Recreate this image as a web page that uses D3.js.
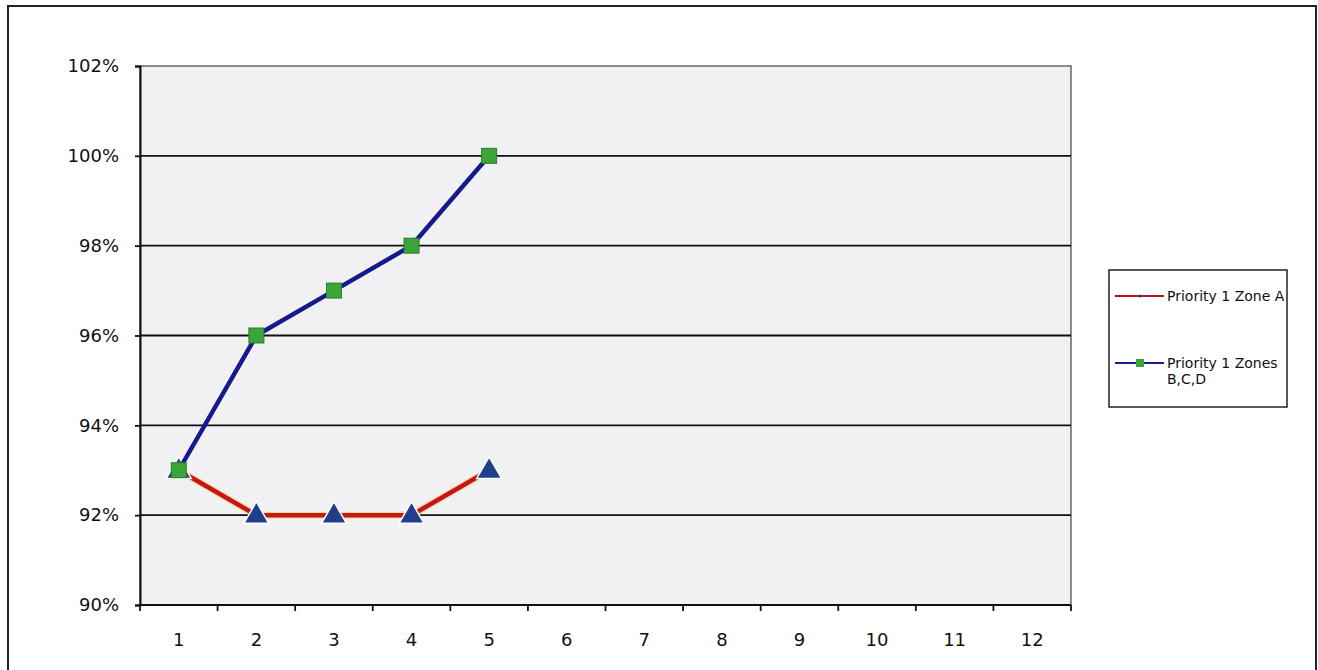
<!DOCTYPE html>
<html><head><meta charset="utf-8">
<script src="https://cdn.jsdelivr.net/npm/d3@7"></script>
<style>body{margin:0;background:#fff}svg{display:block}</style>
</head><body>
<script>
const categories = ["1","2","3","4","5","6","7","8","9","10","11","12"];
const zoneA = [0.93, 0.92, 0.92, 0.92, 0.93];
const zonesBCD = [0.93, 0.96, 0.97, 0.98, 1.00];
const yTicks = [0.90, 0.92, 0.94, 0.96, 0.98, 1.00, 1.02];
const seriesNames = ["Priority 1 Zone A", "Priority 1 Zones B,C,D"];

const W = 1318, H = 670;
const svg = d3.select("body").append("svg").attr("width", W).attr("height", H);
const font = "'DejaVu Sans', Verdana, sans-serif";

// outer frame
svg.append("rect").attr("x", 8).attr("y", 6).attr("width", 1308).attr("height", 700)
  .attr("fill", "#fff").attr("stroke", "#222").attr("stroke-width", 2);

const m = {left: 140, top: 66, right: 1071, bottom: 605};
const x = d3.scaleBand().domain(categories).range([m.left, m.right]);
const y = d3.scaleLinear().domain([0.90, 1.02]).range([m.bottom, m.top]);

svg.append("rect").attr("x", m.left).attr("y", m.top)
  .attr("width", m.right - m.left).attr("height", m.bottom - m.top)
  .attr("fill", "#f1f1f4").attr("stroke", "#444").attr("stroke-width", 1.2);

// gridlines
svg.append("g").selectAll("line").data(yTicks.filter(d => d > 0.90 && d < 1.02)).join("line")
  .attr("x1", m.left).attr("x2", m.right)
  .attr("y1", d => y(d)).attr("y2", d => y(d))
  .attr("stroke", "#111").attr("stroke-width", 1.8);

// y axis
const yAxis = d3.axisLeft(y).tickValues(yTicks).tickFormat(d3.format(".0%")).tickSize(5).tickPadding(16);
const gy = svg.append("g").attr("transform", `translate(${m.left},0)`).call(yAxis);
gy.select(".domain").attr("stroke", "#111").attr("stroke-width", 2);
gy.selectAll(".tick line").attr("stroke", "#111").attr("stroke-width", 1.8);
gy.selectAll("text").attr("font-family", font).attr("font-size", 18).attr("fill", "#111");

// x axis with ticks at category boundaries
const gx = svg.append("g").attr("transform", `translate(0,${m.bottom})`);
gx.append("line").attr("x1", m.left).attr("x2", m.right).attr("stroke", "#111").attr("stroke-width", 2);
const bounds = categories.map(c => x(c)).concat([m.right]);
gx.selectAll("line.t").data(bounds).join("line").attr("class", "t")
  .attr("x1", d => d).attr("x2", d => d).attr("y1", 0).attr("y2", 6)
  .attr("stroke", "#111").attr("stroke-width", 1.8);
gx.selectAll("text").data(categories).join("text")
  .attr("x", d => x(d) + x.bandwidth() / 2).attr("y", 41)
  .attr("text-anchor", "middle").attr("font-family", font).attr("font-size", 18).attr("fill", "#111")
  .text(d => d);

const cx = (d, i) => x(categories[i]) + x.bandwidth() / 2;
const line = d3.line().x((d, i) => cx(d, i)).y(d => y(d));

// series A
svg.append("path").datum(zoneA).attr("d", line).attr("fill", "none")
  .attr("stroke", "#efe08e").attr("stroke-width", 7).attr("stroke-linejoin", "round");
svg.append("path").datum(zoneA).attr("d", line).attr("fill", "none")
  .attr("stroke", "#c8141e").attr("stroke-width", 4.5).attr("stroke-linejoin", "round");
const tri = d3.symbol().type(d3.symbolTriangle).size(270);
svg.append("g").selectAll("path").data(zoneA).join("path")
  .attr("transform", (d, i) => `translate(${cx(d, i)},${y(d) + 1})`)
  .attr("d", tri).attr("fill", "#1f3e8c").attr("stroke", "#fff").attr("stroke-width", 1.5);

// series B
svg.append("path").datum(zonesBCD).attr("d", line).attr("fill", "none")
  .attr("stroke", "#16198e").attr("stroke-width", 4.5).attr("stroke-linejoin", "round");
svg.append("g").selectAll("rect").data(zonesBCD).join("rect")
  .attr("x", (d, i) => cx(d, i) - 7.5).attr("y", d => y(d) - 7.5)
  .attr("width", 15).attr("height", 15)
  .attr("fill", "#3aa53a").attr("stroke", "#2c7d2c").attr("stroke-width", 1);

// legend
const lg = svg.append("g");
lg.append("rect").attr("x", 1109).attr("y", 270).attr("width", 178).attr("height", 137)
  .attr("fill", "#fff").attr("stroke", "#222").attr("stroke-width", 1.5);
const lf = 14;
// entry A
lg.append("line").attr("x1", 1115).attr("x2", 1164).attr("y1", 296).attr("y2", 296)
  .attr("stroke", "#b0142a").attr("stroke-width", 2);
lg.append("circle").attr("cx", 1140).attr("cy", 296).attr("r", 1.6).attr("fill", "#1f3e8c");
lg.append("text").attr("x", 1167).attr("y", 301).attr("font-family", font).attr("font-size", lf)
  .attr("fill", "#111").text(seriesNames[0]);
// entry B
lg.append("line").attr("x1", 1115).attr("x2", 1164).attr("y1", 363).attr("y2", 363)
  .attr("stroke", "#1c1f94").attr("stroke-width", 2);
lg.append("rect").attr("x", 1136).attr("y", 359).attr("width", 8).attr("height", 8).attr("fill", "#3aa53a");
const tB = lg.append("text").attr("font-family", font).attr("font-size", lf).attr("fill", "#111");
tB.append("tspan").attr("x", 1167).attr("y", 368).text("Priority 1 Zones");
tB.append("tspan").attr("x", 1167).attr("y", 384).text("B,C,D");
</script>
</body></html>
